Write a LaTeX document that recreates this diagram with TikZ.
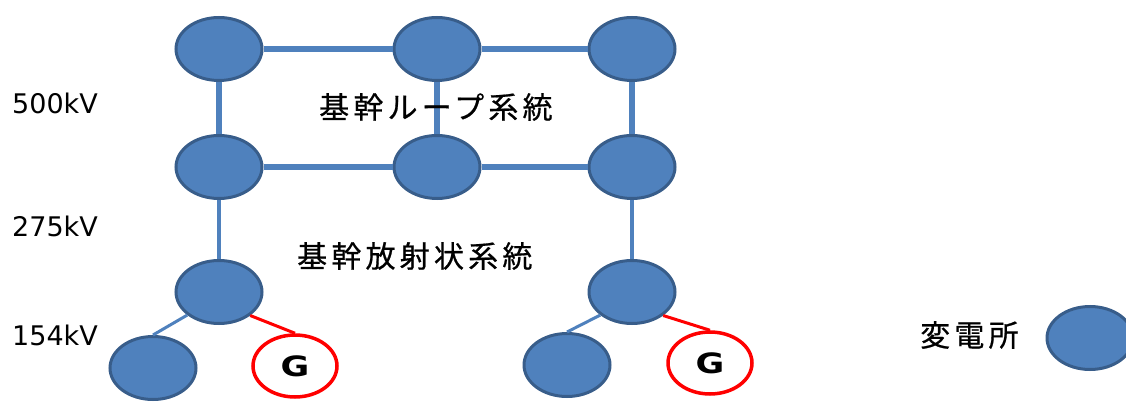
\documentclass[tikz,border=0pt]{standalone}
\usepackage{fontspec}
\setmainfont{DejaVu Sans}
\newfontfamily\jpfont[LetterSpace=14,FakeBold=0.6]{Noto Sans CJK JP}
\usetikzlibrary{shapes.geometric}
\definecolor{nodeblue}{HTML}{4F81BD}
\definecolor{nodeedge}{HTML}{385D8A}
\definecolor{gred}{HTML}{FF0000}
\begin{document}
\begin{tikzpicture}[x=1pt,y=-1pt,
 sub/.style={ellipse, fill=nodeblue, draw=nodeedge, line width=3pt, minimum width=86pt, minimum height=63pt, inner sep=0pt},
 gen/.style={ellipse, fill=white, draw=gred, line width=3.5pt, minimum width=84pt, minimum height=62pt, inner sep=0pt, font=\bfseries\fontsize{28}{28}\selectfont},
 trunk/.style={draw=nodeblue, line width=6.5pt},
 radial/.style={draw=nodeblue, line width=4pt},
 feed/.style={draw=nodeblue, line width=3pt},
 gfeed/.style={draw=gred, line width=3pt},
 volt/.style={anchor=west, inner sep=0pt, font=\fontsize{27}{27}\selectfont},
 jp/.style={anchor=west, inner sep=0pt, font=\jpfont\fontsize{30}{30}\selectfont}]
\useasboundingbox (0,0) rectangle (1126,403);
\node[sub] (t1) at (219,49) {};
\node[sub] (t2) at (437,49) {};
\node[sub] (t3) at (632,49) {};
\node[sub] (m1) at (219,167) {};
\node[sub] (m2) at (437,167) {};
\node[sub] (m3) at (632,167) {};
\node[sub] (b1) at (219,292) {};
\node[sub] (b2) at (632,292) {};
\node[sub] (l1) at (153,368) {};
\node[gen] (g1) at (295,366) {\scalebox{1.25}[1]{G}};
\node[sub] (l2) at (567,365) {};
\node[gen] (g2) at (710,363) {\scalebox{1.25}[1]{G}};
\node[sub] (leg) at (1090,338) {};
\draw[trunk] (t1) -- (t2);
\draw[trunk] (t2) -- (t3);
\draw[trunk] (m1) -- (m2);
\draw[trunk] (m2) -- (m3);
\draw[trunk] (t1) -- (m1);
\draw[trunk] (t2) -- (m2);
\draw[trunk] (t3) -- (m3);
\draw[radial] (m1) -- (b1);
\draw[radial] (m3) -- (b2);
\draw[feed] (b1.216) -- (l1.north);
\draw[gfeed] (b1.-37) -- (g1.north);
\draw[feed] (b2.216) -- (l2.north);
\draw[gfeed] (b2.-37) -- (g2.north);
\node[volt] (v500) at (12,103) {500kV};
\node[volt] (v275) at (12,226) {275kV};
\node[volt] (v154) at (12,335) {154kV};
\node[jp] (loop) at (319,107) {基幹ループ系統};
\node[jp] (rad) at (297,256) {基幹放射状系統};
\node[jp] (legt) at (920,335) {変電所};
\end{tikzpicture}
\end{document}
